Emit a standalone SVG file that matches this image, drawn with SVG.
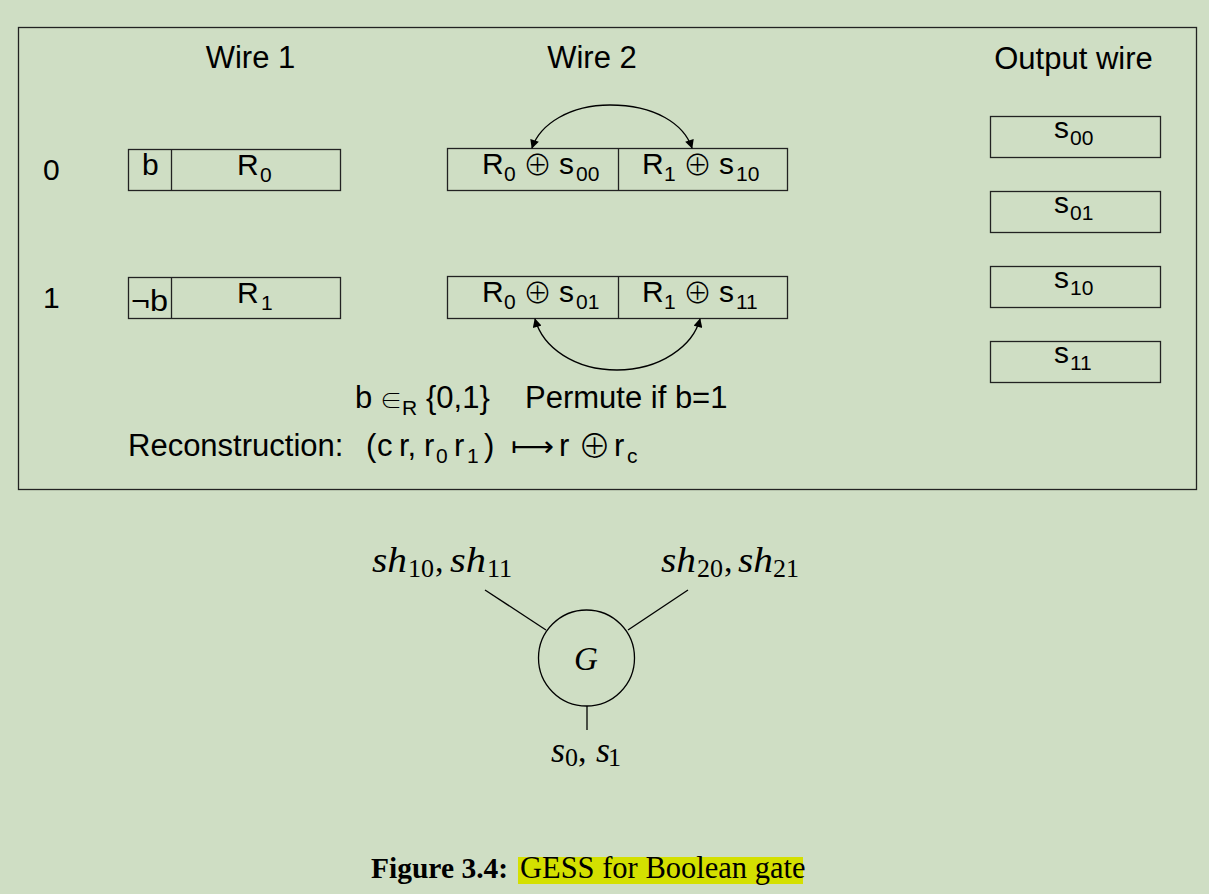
<svg xmlns="http://www.w3.org/2000/svg" width="1209" height="894" viewBox="0 0 1209 894">
<defs>
<style>
.s{font-family:"Liberation Sans",Arial,sans-serif;font-size:30px;fill:#000}
.h{font-size:31px}
.sub{font-family:"Liberation Sans",Arial,sans-serif;font-size:21px;fill:#000}
.m{font-family:"Liberation Serif","Times New Roman",serif;font-style:italic;font-size:36px;fill:#000}
.mn{font-family:"Liberation Serif","Times New Roman",serif;font-size:26px;fill:#000}
.box{fill:none;stroke:#222;stroke-width:1.3}
.ln{fill:none;stroke:#000;stroke-width:1.3}
.ox{font-family:"Noto Sans CJK SC","DejaVu Sans",sans-serif;font-weight:300;font-size:29px;fill:#000}
.ar{font-family:"DejaVu Sans",sans-serif;font-size:28px;fill:#000}
</style>
<marker id="ah" viewBox="0 0 10 10" refX="9" refY="5" markerWidth="10" markerHeight="9" orient="auto" markerUnits="userSpaceOnUse"><path d="M0,0 L10,5 L0,10 z" fill="#000"/></marker>
</defs>
<rect width="1209" height="894" fill="#cfdec4"/>
<rect x="18.5" y="27.5" width="1178" height="462" class="box"/>
<text class="s h" x="250.5" y="68" text-anchor="middle">Wire 1</text>
<text class="s h" x="592" y="68" text-anchor="middle">Wire 2</text>
<text class="s h" x="1073.5" y="69" text-anchor="middle">Output wire</text>
<text class="s" x="43" y="180">0</text>
<text class="s" x="43" y="308">1</text>
<g id="w1r0"><rect x="128.5" y="149.5" width="212" height="41" class="box"/><line x1="171.5" y1="149.5" x2="171.5" y2="190.5" class="box"/>
<text class="s" x="142" y="175">b</text><text class="s" x="237" y="175">R</text><text class="sub" x="260" y="182">0</text></g>
<g id="w1r1"><rect x="128.5" y="277.5" width="212" height="41" class="box"/><line x1="171.5" y1="277.5" x2="171.5" y2="318.5" class="box"/>
<text class="s" x="131" y="311" textLength="37" lengthAdjust="spacingAndGlyphs">¬b</text><text class="s" x="237" y="303">R</text><text class="sub" x="261" y="310">1</text></g>
<g id="w2r0"><rect x="447.5" y="148.5" width="340" height="42" class="box"/><line x1="618.5" y1="148.5" x2="618.5" y2="190.5" class="box"/>
<text class="s" x="482" y="174">R</text><text class="sub" x="504" y="181">0</text><text class="ox" x="523" y="176">⊕</text><text class="s" x="559" y="174">s</text><text class="sub" x="576" y="181">00</text>
<text class="s" x="642" y="174">R</text><text class="sub" x="664" y="181">1</text><text class="ox" x="683" y="176">⊕</text><text class="s" x="719" y="174">s</text><text class="sub" x="736" y="181">10</text></g>
<g id="w2r1"><rect x="447.5" y="276.5" width="340" height="42" class="box"/><line x1="618.5" y1="276.5" x2="618.5" y2="318.5" class="box"/>
<text class="s" x="482" y="302">R</text><text class="sub" x="504" y="309">0</text><text class="ox" x="523" y="304">⊕</text><text class="s" x="559" y="302">s</text><text class="sub" x="576" y="309">01</text>
<text class="s" x="642" y="302">R</text><text class="sub" x="664" y="309">1</text><text class="ox" x="683" y="304">⊕</text><text class="s" x="719" y="302">s</text><text class="sub" x="736" y="309">11</text></g>
<g id="out00"><rect x="990.5" y="116.5" width="170" height="41" class="box"/><text class="s" x="1054" y="138">s</text><text class="sub" x="1070" y="145">00</text></g>
<g id="out01"><rect x="990.5" y="191.5" width="170" height="41" class="box"/><text class="s" x="1054" y="213">s</text><text class="sub" x="1070" y="220">01</text></g>
<g id="out10"><rect x="990.5" y="266.5" width="170" height="41" class="box"/><text class="s" x="1054" y="288">s</text><text class="sub" x="1070" y="295">10</text></g>
<g id="out11"><rect x="990.5" y="341.5" width="170" height="41" class="box"/><text class="s" x="1054" y="363">s</text><text class="sub" x="1070" y="370">11</text></g>
<g id="connectors">
<path d="M610,105 C570,105 540,124 532,148" class="ln" marker-end="url(#ah)"/>
<path d="M610,105 C655,105 684,124 692,148" class="ln" marker-end="url(#ah)"/>
<path d="M617,370 C575,370 543,348 535,319" class="ln" marker-end="url(#ah)"/>
<path d="M617,370 C660,370 693,346 700,319" class="ln" marker-end="url(#ah)"/>
<line x1="485" y1="590" x2="546" y2="630" class="ln"/>
<line x1="688" y1="590" x2="628" y2="630" class="ln"/>
<line x1="587" y1="706" x2="587" y2="730" class="ln"/>
</g>
<text class="s h" x="355" y="408">b</text><text class="ox" x="380" y="408" style="font-size:22px">∈</text><text class="sub" x="402" y="415">R</text><text class="s h" x="426" y="408">{0,1}</text>
<text class="s h" x="525" y="408">Permute if b=1</text>
<text class="s h" x="128" y="456">Reconstruction:</text>
<text class="s h" x="366" y="456">(</text><text class="s h" x="377" y="456">c</text><text class="s h" x="399" y="456">r,</text><text class="s h" x="424" y="456">r</text><text class="sub" x="436" y="463">0</text><text class="s h" x="454" y="456">r</text><text class="sub" x="467" y="463">1</text><text class="s h" x="484" y="456">)</text>
<text class="ar" x="511" y="456" textLength="43" lengthAdjust="spacingAndGlyphs">⟼</text>
<text class="s h" x="559" y="456">r</text><text class="ox" x="578" y="458" style="font-size:33px">⊕</text><text class="s h" x="614" y="456">r</text><text class="sub" x="627" y="463">c</text>
<g id="gate"><circle cx="586.5" cy="658" r="48" class="ln"/><text class="m" x="586" y="670" text-anchor="middle" style="font-size:33px">G</text></g>
<g id="lbl1"><text class="m" x="372" y="572" textLength="35" lengthAdjust="spacingAndGlyphs">sh</text><text class="mn" x="408" y="577">10</text><text class="mn" x="435" y="572" style="font-size:34px">,</text><text class="m" x="450" y="572" textLength="36" lengthAdjust="spacingAndGlyphs">sh</text><text class="mn" x="487" y="577">11</text></g>
<g id="lbl2"><text class="m" x="661" y="572" textLength="35" lengthAdjust="spacingAndGlyphs">sh</text><text class="mn" x="697" y="577">20</text><text class="mn" x="724" y="572" style="font-size:34px">,</text><text class="m" x="738" y="572" textLength="35" lengthAdjust="spacingAndGlyphs">sh</text><text class="mn" x="773" y="577">21</text></g>
<g id="lbl3"><text class="m" x="551" y="762">s</text><text class="mn" x="565" y="766">0</text><text class="mn" x="578" y="762" style="font-size:34px">,</text><text class="m" x="596" y="762">s</text><text class="mn" x="608" y="766">1</text></g>
<rect x="518" y="857" width="285" height="27" fill="#d4e000"/>
<text x="371" y="878" style="font-family:'Liberation Serif','Times New Roman',serif;font-size:29.5px;font-weight:bold">Figure 3.4:</text>
<text x="520" y="878" style="font-family:'Liberation Serif','Times New Roman',serif;font-size:30.5px">GESS for Boolean gate</text>
</svg>
